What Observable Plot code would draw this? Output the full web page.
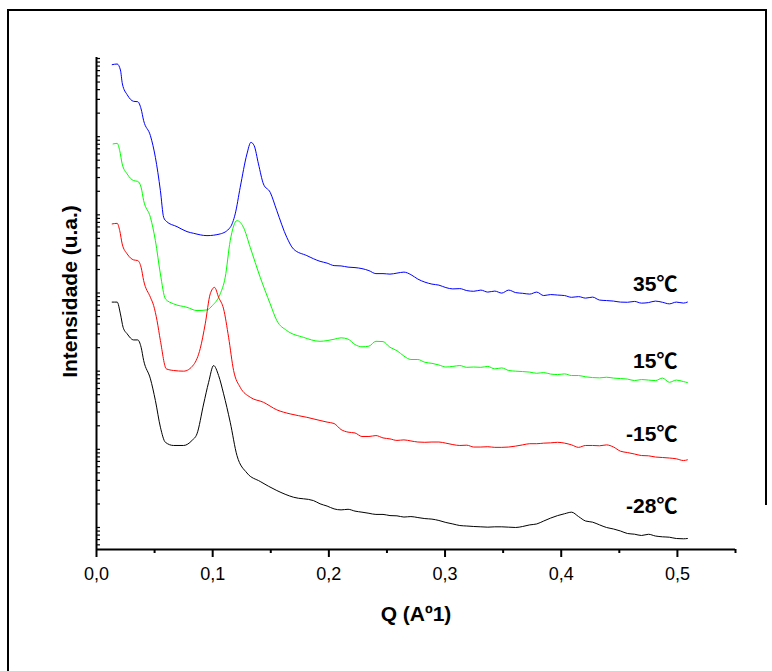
<!DOCTYPE html>
<html>
<head>
<meta charset="utf-8">
<script src="https://cdn.jsdelivr.net/npm/d3@7"></script>
<script src="https://cdn.jsdelivr.net/npm/@observablehq/plot@0.6"></script>
<style>
  html, body { margin: 0; padding: 0; background: #fff; }
  #chart svg { display: block; }
</style>
</head>
<body>
<div id="chart"></div>
<script>
// ---- Data (Q in Å^-1, intensity in arbitrary units on a log axis) ----
// low-Q part of each curve
const qBlueFront = [0.0135,0.0178,0.0206,0.0223,0.0264,0.0320,0.0355,0.0384,0.0406,0.0464,0.0507,0.0550,0.0578,0.0601,0.0693,0.0779,0.0836,0.0951,0.1065,0.1151,0.1194,0.1237,0.1295,0.1329,0.1357,0.1394,0.1437,0.1495,0.1552,0.1638,0.1695,0.1810];
const iBlueFront = [834000,850000,713000,472000,344000,283000,280000,226000,160000,103000,54300,20400,9290,8260,7060,6100,5800,5420,5700,6920,10300,22500,60100,84600,76700,44800,24800,19400,11300,5150,3660,3010];

const qGreenFront = [0.0143,0.0178,0.0200,0.0221,0.0264,0.0320,0.0355,0.0384,0.0406,0.0464,0.0507,0.0550,0.0593,0.0664,0.0779,0.0865,0.0951,0.0997,0.1065,0.1108,0.1151,0.1209,0.1265,0.1323,0.1409,0.1495,0.1552,0.1638,0.1781];
const iGreenFront = [80700,82100,66200,44800,33300,27400,26800,22500,15200,9290,4680,1750,841,726,656,596,608,690,975,1590,4680,8430,6920,3840,1590,726,444,331,271];

const qRedFront = [0.0135,0.0178,0.0200,0.0221,0.0264,0.0320,0.0355,0.0384,0.0406,0.0464,0.0492,0.0521,0.0550,0.0601,0.0664,0.0750,0.0836,0.0893,0.0936,0.0979,0.1016,0.1051,0.1094,0.1137,0.1180,0.1237,0.1323,0.1437,0.1552,0.1667,0.1810];
const iRedFront = [7650,7780,6280,4250,3160,2650,2600,2130,1440,881,690,444,246,107,102,100,121,195,403,975,1180,881,626,271,102,62.2,46.4,40.0,32.0,28.4,25.7];

const qBlackFront = [0.0135,0.0178,0.0206,0.0229,0.0264,0.0320,0.0355,0.0384,0.0406,0.0464,0.0507,0.0550,0.0593,0.0664,0.0750,0.0822,0.0865,0.0922,0.0965,0.1008,0.1051,0.1094,0.1151,0.1209,0.1295,0.1409,0.1552,0.1695,0.1867];
const iBlackFront = [765,765,540,364,300,251,251,202,137,79.8,42.1,19.2,12.3,11.2,11.2,13.0,15.8,38,72,118,87.9,51.3,22.2,8.33,4.98,3.88,2.97,2.44,2.21];

// high-Q part, read on a common Q grid
const qTail = [0.1924,0.1985,0.2045,0.2105,0.2165,0.2225,0.2285,0.2345,0.2405,0.2466,0.2526,0.2586,0.2646,0.2706,0.2766,0.2826,0.2887,0.2947,0.3007,0.3067,0.3127,0.3187,0.3247,0.3308,0.3368,0.3428,0.3488,0.3548,0.3608,0.3668,0.3729,0.3789,0.3849,0.3909,0.3969,0.4029,0.4089,0.4149,0.4210,0.4270,0.4330,0.4390,0.4450,0.4510,0.4570,0.4631,0.4691,0.4751,0.4811,0.4871,0.4931,0.4991,0.5052,0.5086];
const iBlueTail = [2543,2411,2240,2220,2144,2113,2051,1933,1770,1770,1744,1796,1850,1718,1506,1378,1300,1261,1173,1128,1138,1074,1052,1089,1027,1058,997,1089,1012,991,968,1027,927,955,941,927,881,899,860,886,812,800,788,765,761,780,742,754,788,761,726,765,743,765];
const iGreenTail = [241,246,256,267,257,219,205,209,241,239,202,183,156,141,141,130,126,120,113,115,118,112,113,112,115,107,110,102,100,98.8,97.3,94.0,95.9,91.8,90.5,92.3,87.9,87.9,84.6,82.8,82.1,83.6,81.6,80.4,79.2,75.8,78.1,76.9,75.8,81.6,72.1,76.9,73.6,71.5];
const iRedTail = [23.4,22.3,21.4,17.9,16.6,16.2,14.6,14.6,15.0,14.0,13.6,13.0,13.2,12.8,12.4,12.3,12.4,12.4,12.0,11.5,11.2,11.3,10.7,10.7,10.8,10.6,10.6,10.7,11.0,11.4,11.8,11.8,12.0,12.1,12.3,12.0,11.4,10.6,11.2,11.2,11.1,11.4,10.7,9.46,9.10,8.71,8.33,8.26,7.97,7.86,7.74,7.56,7.19,7.34];
const iBlackTail = [2.01,1.88,1.73,1.68,1.71,1.62,1.57,1.52,1.47,1.47,1.42,1.41,1.36,1.38,1.34,1.30,1.28,1.23,1.16,1.11,1.06,1.045,1.03,1.02,1.01,1.02,1.02,1.01,1.00,1.03,1.08,1.11,1.21,1.32,1.42,1.50,1.57,1.38,1.21,1.17,1.08,1.00,0.957,0.902,0.838,0.821,0.790,0.819,0.778,0.760,0.751,0.723,0.717,0.723];

const seriesNames = ["35℃", "15℃", "-15℃", "-28℃"];
const seriesColors = ["#0000ff", "#00ff00", "#ff0000", "#000000"];
// intensities at which each temperature label sits (at Q = 0.5)
const labelLevels = [1280, 135, 15.5, 1.88];
const labelQ = 0.5;

const xMajor = [0, 0.1, 0.2, 0.3, 0.4, 0.5];
const xMinor = [0.05, 0.15, 0.25, 0.35, 0.45, 0.55];
const xDomain = [0, 0.55];
const yDomain = [0.523, 1.03e6];

// ---- Build table ----
const fronts = [[qBlueFront, iBlueFront], [qGreenFront, iGreenFront], [qRedFront, iRedFront], [qBlackFront, iBlackFront]];
const tails = [iBlueTail, iGreenTail, iRedTail, iBlackTail];
const rows = [];
seriesNames.forEach((name, k) => {
  const [qf, vf] = fronts[k];
  qf.forEach((q, j) => rows.push({series: name, q, intensity: vf[j]}));
  qTail.forEach((q, j) => rows.push({series: name, q, intensity: tails[k][j]}));
});
const labels = seriesNames.map((name, k) => ({name, q: labelQ, y: labelLevels[k]}));

// log ticks (1..9 per decade) inside the domain
const yTicks = [];
for (let e = -1; e <= 6; e++) {
  for (let m = 1; m <= 9; m++) {
    const v = m * Math.pow(10, e);
    if (v >= yDomain[0] && v <= yDomain[1]) yTicks.push(v);
  }
}

const font = "'Liberation Sans', Arial, 'Noto Sans CJK SC', sans-serif";

const chart = Plot.plot({
  width: 772,
  height: 671,
  marginLeft: 96,
  marginRight: 37,
  marginTop: 57,
  marginBottom: 122,
  style: {fontFamily: font, background: "#fff", color: "#000"},
  x: {domain: xDomain, axis: null},
  y: {type: "log", domain: yDomain, axis: null},
  color: {domain: seriesNames, range: seriesColors},
  marks: [
    Plot.line(rows, {x: "q", y: "intensity", z: "series", stroke: "series", strokeWidth: 1, curve: "monotone-x"}),
    Plot.axisY(yTicks, {anchor: "left", tickSize: -4, tickFormat: () => "", strokeWidth: 1.2, label: null}),
    Plot.axisX(xMinor, {anchor: "bottom", tickSize: 4, tickFormat: () => "", strokeWidth: 2, label: null}),
    Plot.axisX(xMajor, {anchor: "bottom", tickSize: 8, tickPadding: 10, strokeWidth: 2, fontSize: 18, label: null,
      tickFormat: d => d.toFixed(1).replace(".", ",")}),
    Plot.ruleX([0], {strokeWidth: 2}),
    Plot.ruleY([yDomain[0]], {strokeWidth: 2}),
    Plot.text(labels, {x: "q", y: "y", text: "name", textAnchor: "end", lineAnchor: "middle",
      fontSize: 21, fontWeight: "bold", fill: "#000"}),
    Plot.text(["Intensidade (u.a.)"], {frameAnchor: "left", rotate: -90, dx: -26, dy: -12,
      textAnchor: "middle", lineAnchor: "middle", fontSize: 21, fontWeight: "bold", fill: "#000"}),
    Plot.text(["Q (Aº1)"], {frameAnchor: "bottom", dy: 65, textAnchor: "middle", lineAnchor: "middle",
      fontSize: 21, fontWeight: "bold", fill: "#000"})
  ]
});

// outer frame of the figure
const svg = d3.select(chart);
svg.append("path")
  .attr("d", "M8,671 L8,10 L766,10 L766,505")
  .attr("fill", "none").attr("stroke", "#000").attr("stroke-width", 2);

document.getElementById("chart").appendChild(chart);
</script>
</body>
</html>
